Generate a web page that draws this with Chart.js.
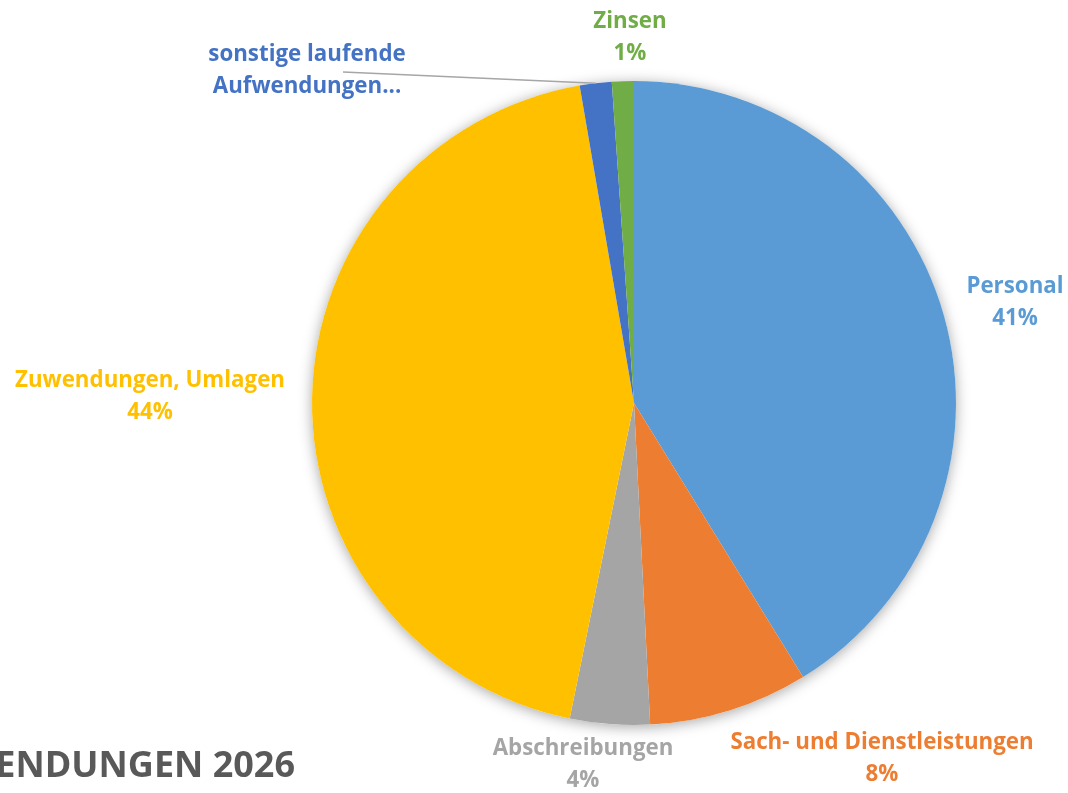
<!DOCTYPE html>
<html>
<head>
<meta charset="utf-8">
<script src="https://cdn.jsdelivr.net/npm/chart.js@4.4.1/dist/chart.umd.min.js"></script>
<style>
  html, body { margin: 0; padding: 0; background: #ffffff; }
  #wrap { width: 1068px; height: 793px; position: relative; }
</style>
</head>
<body>
<div id="wrap"><canvas id="c" width="1068" height="793"></canvas></div>
<script>
// ---- data ----
const categories = ["Personal", "Sach- und Dienstleistungen", "Abschreibungen", "Zuwendungen, Umlagen", "sonstige laufende Aufwendungen", "Zinsen"];
const values = [41.2, 8.0, 4.0, 44.1, 1.6, 1.1];
const colors = ["#5B9BD5", "#ED7D31", "#A5A5A5", "#FFC000", "#4472C4", "#70AD47"];
const labelLines = [["Personal"], ["Sach- und Dienstleistungen"], ["Abschreibungen"], ["Zuwendungen, Umlagen"], ["sonstige laufende", "Aufwendungen..."], ["Zinsen"]];
const showPercent = [true, true, true, true, false, true];
const titleText = "AUFWENDUNGEN 2026";

// label placement (offsets from pie centre), leader-line flags
const labelOffsets = [[381, -100], [248, 356], [-51, 362], [-484, -6], [-327, -332], [-4, -365]];
const leader = [false, false, false, false, true, false];

const FONT = "'Open Sans', Lato, sans-serif";

const shadowPlugin = {
  id: 'pieShadow',
  beforeDatasetsDraw(chart) {
    const arc = chart.getDatasetMeta(0).data[0];
    if (!arc) return;
    const ctx = chart.ctx;
    ctx.save();
    ctx.shadowColor = 'rgba(0,0,0,0.35)';
    ctx.shadowBlur = 14;
    ctx.shadowOffsetX = 0;
    ctx.shadowOffsetY = 2;
    ctx.fillStyle = '#ffffff';
    ctx.beginPath();
    ctx.arc(arc.x, arc.y, arc.outerRadius, 0, Math.PI * 2);
    ctx.fill();
    ctx.restore();
  }
};

const labelPlugin = {
  id: 'sliceLabels',
  afterDatasetsDraw(chart) {
    const ctx = chart.ctx;
    const meta = chart.getDatasetMeta(0);
    const data = chart.data.datasets[0].data;
    const total = data.reduce((a, b) => a + b, 0);
    ctx.save();
    ctx.font = "bold 22.3px " + FONT;
    ctx.textAlign = 'center';
    ctx.textBaseline = 'middle';
    const lh = 32;
    meta.data.forEach((arc, i) => {
      const cx = arc.x + labelOffsets[i][0];
      const cy = arc.y + labelOffsets[i][1];
      const lines = labelLines[i].slice();
      if (showPercent[i]) lines.push(Math.round(data[i] / total * 100) + "%");
      const y0 = cy - (lines.length - 1) * lh / 2;
      if (leader[i]) {
        const mid = (arc.startAngle + arc.endAngle) / 2;
        const px = arc.x + Math.cos(mid) * arc.outerRadius;
        const py = arc.y + Math.sin(mid) * arc.outerRadius;
        ctx.strokeStyle = '#A6A6A6';
        ctx.lineWidth = 1.5;
        ctx.beginPath();
        ctx.moveTo(cx + 36, y0 + 17);
        ctx.lineTo(px, py);
        ctx.stroke();
      }
      ctx.fillStyle = colors[i];
      lines.forEach((t, k) => ctx.fillText(t, cx, y0 + k * lh));
    });
    // title, clipped at the left edge
    ctx.font = "bold 36px " + FONT;
    ctx.fillStyle = '#595959';
    ctx.textAlign = 'right';
    ctx.textBaseline = 'alphabetic';
    ctx.fillText(titleText, 295, 777);
    ctx.restore();
  }
};

new Chart(document.getElementById('c'), {
  type: 'pie',
  data: {
    labels: categories,
    datasets: [{
      data: values,
      backgroundColor: colors,
      borderWidth: 0,
      hoverOffset: 0
    }]
  },
  options: {
    responsive: false,
    animation: false,
    rotation: 0,
    layout: { padding: { left: 200, right: 0, top: 81, bottom: 68 } },
    plugins: {
      legend: { display: false },
      tooltip: { enabled: false },
      title: { display: false }
    }
  },
  plugins: [shadowPlugin, labelPlugin]
});
</script>
</body>
</html>
